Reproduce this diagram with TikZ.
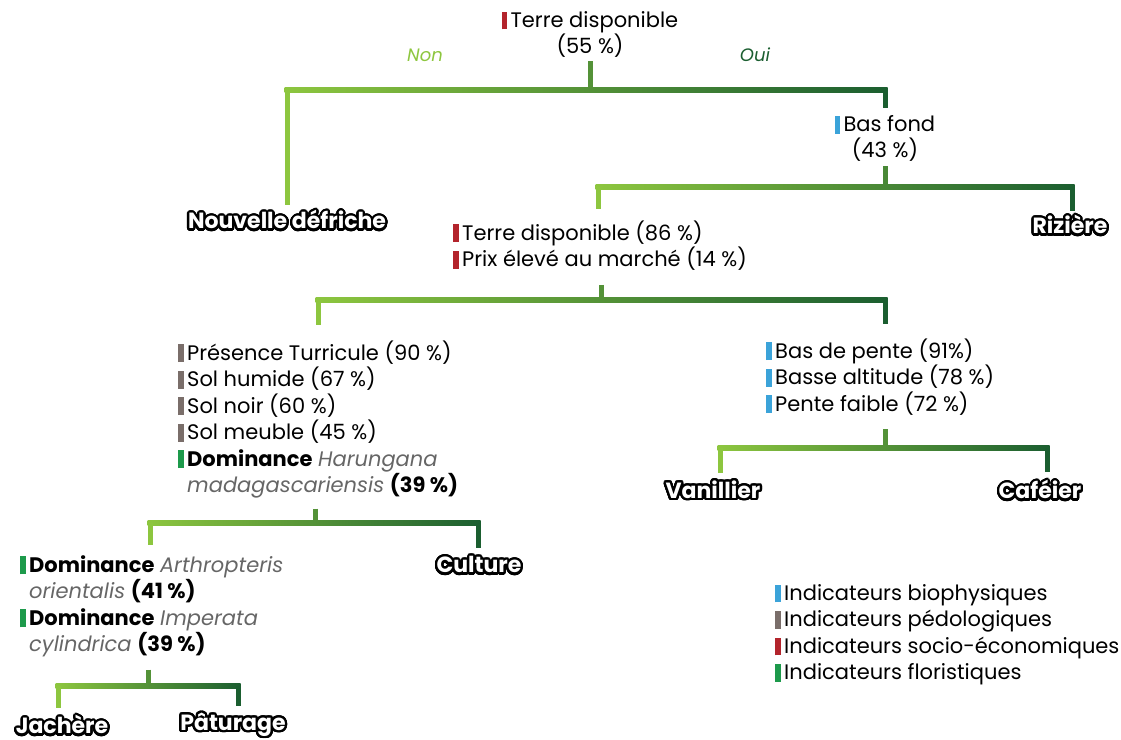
\documentclass[tikz,border=0pt]{standalone}
\usepackage{fontspec}
\setmainfont{Poppins}
\usepackage{contour}
\contourlength{1.15pt}
\contournumber{32}
\usetikzlibrary{calc}
\definecolor{lg}{HTML}{8DC63F}
\definecolor{dg}{HTML}{1B5E30}
\definecolor{cbio}{HTML}{3BA3D9}
\definecolor{cped}{HTML}{7A6E6A}
\definecolor{csoc}{HTML}{B3242C}
\definecolor{cflo}{HTML}{1D9A4B}
\definecolor{spgray}{HTML}{666666}
\newcommand\ibar[1]{\textcolor{#1}{\rule[-0.1em]{2.6pt}{0.85em}}\hspace{1.8pt}}
\newcommand\spec[1]{{\itshape\color{spgray}#1}}
\newcommand\olab[1]{{\color{white}\contour{black}{#1}}}
\tikzset{
  txt/.style={font=\fontsize{10.5}{13.25}\selectfont, inner sep=0pt, align=left, anchor=north west},
  yn/.style={font=\fontsize{9}{11}\selectfont\itshape, inner sep=0pt},
  outl/.style={font=\fontsize{11}{13}\selectfont\bfseries, inner sep=0pt},
  stub/.style={line width=2.5pt, line cap=butt},
}
\begin{document}
\begin{tikzpicture}[x=0.5pt,y=-0.5pt]
\useasboundingbox (0,0) rectangle (1121,740);

% nodes
\node[txt, anchor=north, align=center] (root) at (590,11) {\ibar{csoc}Terre disponible\\(55 \%)};
\node[yn, text=lg] (non) at (425,55) {Non};
\node[yn, text=dg] (oui) at (755,55) {Oui};
\node[txt, anchor=north, align=center] (bas) at (885,115) {\ibar{cbio}Bas fond\\(43 \%)};
\node[outl] (nd) at (287,221) {\olab{Nouvelle défriche}};
\node[outl] (riz) at (1070,226) {\olab{Rizière}};
\node[txt] (t86) at (453,220) {\ibar{csoc}Terre disponible (86 \%)\\\ibar{csoc}Prix élevé au marché (14 \%)};
\node[txt] (pres) at (178,340) {\ibar{cped}Présence Turricule (90 \%)\\\ibar{cped}Sol humide (67 \%)\\\ibar{cped}Sol noir (60 \%)\\\ibar{cped}Sol meuble (45 \%)\\\ibar{cflo}\textbf{Dominance} \spec{Harungana}\\\hphantom{\ibar{cflo}}\spec{madagascariensis} \textbf{(39 \%)}};
\node[txt] (bdp) at (766,338) {\ibar{cbio}Bas de pente (91\%)\\\ibar{cbio}Basse altitude (78 \%)\\\ibar{cbio}Pente faible (72 \%)};
\node[outl] (van) at (713,491) {\olab{Vanillier}};
\node[outl] (caf) at (1040,491) {\olab{Caféier}};
\node[outl] (cul) at (479,566) {\olab{Culture}};
\node[txt] (dom) at (20,555) {\ibar{cflo}\textbf{Dominance} \spec{Arthropteris}\\\hphantom{\ibar{cflo}}\spec{orientalis} \textbf{(41 \%)}\\\ibar{cflo}\textbf{Dominance} \spec{Imperata}\\\hphantom{\ibar{cflo}}\spec{cylindrica} \textbf{(39 \%)}};
\node[outl] (jac) at (62,726) {\olab{Jachère}};
\node[outl] (pat) at (233,726) {\olab{Pâturage}};
\node[txt] (leg) at (775,584) {\ibar{cbio}Indicateurs biophysiques\\\ibar{cped}Indicateurs pédologiques\\\ibar{csoc}Indicateurs socio-économiques\\\ibar{cflo}Indicateurs floristiques};

% fork 1: root
\coordinate (f1) at (590,90); \coordinate (f1l) at (287,90); \coordinate (f1r) at (885,90);
\draw[stub, lg!50!dg, shorten <=1.5pt] (root.south -| f1) -- (f1);
\shade[left color=lg, right color=dg] ($(f1l)+(-2.5,-2.5)$) rectangle ($(f1r)+(2.5,2.5)$);
\draw[stub, lg, shorten >=2.5pt] (f1l) -- (nd.north -| f1l);
\draw[stub, dg, shorten >=3.5pt] (f1r) -- (bas.north -| f1r);

% fork 2: bas fond
\coordinate (f2) at (885,187); \coordinate (f2l) at (598,187); \coordinate (f2r) at (1072,187);
\draw[stub, lg!40!dg, shorten <=2pt] (bas.south -| f2) -- (f2);
\shade[left color=lg, right color=dg] ($(f2l)+(-2.5,-2.5)$) rectangle ($(f2r)+(2.5,2.5)$);
\draw[stub, lg, shorten >=5.5pt] (f2l) -- (t86.north -| f2l);
\draw[stub, dg, shorten >=2pt] (f2r) -- (riz.north -| f2r);

% fork 3: terre 86
\coordinate (f3) at (601,300); \coordinate (f3l) at (318,300); \coordinate (f3r) at (885,300);
\draw[stub, lg!50!dg, shorten <=7pt] (t86.south -| f3) -- (f3);
\shade[left color=lg, right color=dg] ($(f3l)+(-2.5,-2.5)$) rectangle ($(f3r)+(2.5,2.5)$);
\draw[stub, lg, shorten >=7.5pt] (f3l) -- (pres.north -| f3l);
\draw[stub, dg, shorten >=7pt] (f3r) -- (bdp.north -| f3r);

% fork 4: presence
\coordinate (f4) at (315,523); \coordinate (f4l) at (150,523); \coordinate (f4r) at (478,523);
\draw[stub, lg!50!dg, shorten <=5pt] (pres.south -| f4) -- (f4);
\shade[left color=lg, right color=dg] ($(f4l)+(-2.5,-2.5)$) rectangle ($(f4r)+(2.5,2.5)$);
\draw[stub, lg, shorten >=5pt] (f4l) -- (dom.north -| f4l);
\draw[stub, dg, shorten >=4pt] (f4r) -- (cul.north -| f4r);

% fork 5: bas de pente
\coordinate (f5) at (885,448); \coordinate (f5l) at (720,448); \coordinate (f5r) at (1047,448);
\draw[stub, lg!50!dg, shorten <=7pt] (bdp.south -| f5) -- (f5);
\shade[left color=lg, right color=dg] ($(f5l)+(-2.5,-2.5)$) rectangle ($(f5r)+(2.5,2.5)$);
\draw[stub, lg, shorten >=4pt] (f5l) -- (van.north -| f5l);
\draw[stub, dg, shorten >=4pt] (f5r) -- (caf.north -| f5r);

% fork 6: dominance
\coordinate (f6) at (148,686); \coordinate (f6l) at (58,686); \coordinate (f6r) at (238,686);
\draw[stub, lg!50!dg, shorten <=6pt] (dom.south -| f6) -- (f6);
\shade[left color=lg, right color=dg] ($(f6l)+(-2.5,-2.5)$) rectangle ($(f6r)+(2.5,2.5)$);
\draw[stub, lg, shorten >=3.5pt] (f6l) -- (jac.north -| f6l);
\draw[stub, dg, shorten >=3.5pt] (f6r) -- (pat.north -| f6r);
\end{tikzpicture}
\end{document}
